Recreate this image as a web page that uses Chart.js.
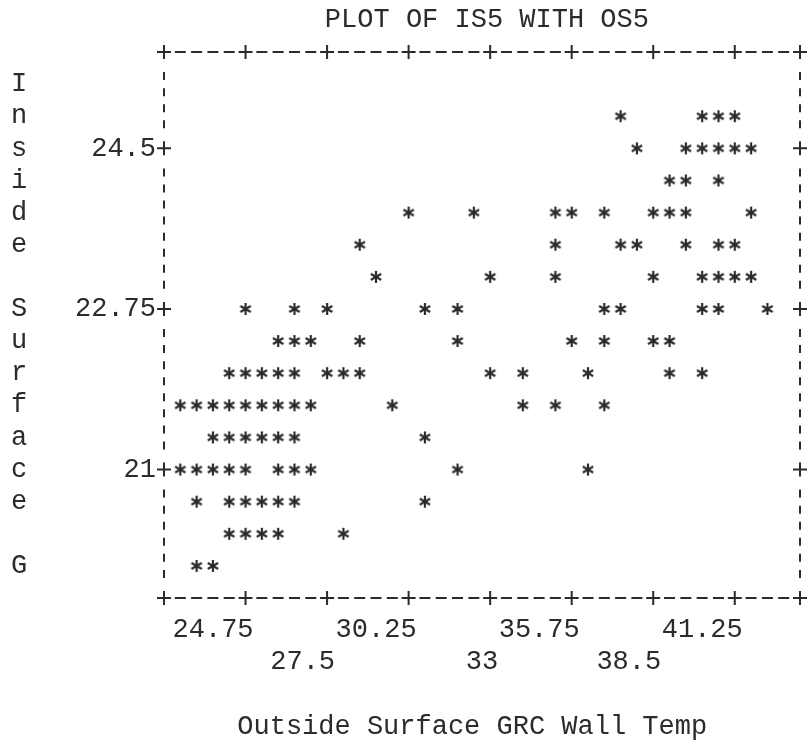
<!DOCTYPE html>
<html>
<head>
<meta charset="utf-8">
<title>PLOT OF IS5 WITH OS5</title>
<script src="https://cdn.jsdelivr.net/npm/chart.js@4.4.1/dist/chart.umd.min.js"></script>
<style>
    html, body { margin: 0; padding: 0; background: #fff; }
    #wrap { width: 808px; height: 746px; }
</style>
</head>
<body>
<div id="wrap"><canvas id="plot" width="808" height="746"></canvas></div>
<script>
const chartTitle = 'PLOT OF IS5 WITH OS5';
const xAxisTitle = 'Outside Surface GRC Wall Temp';
const yAxisLetters = 'Inside Surface G';

const xTickValues = [24.75, 27.5, 30.25, 33, 35.75, 38.5, 41.25];
const xTickLabels = ['24.75', '27.5', '30.25', '33', '35.75', '38.5', '41.25'];
const yTickValues = [24.5, 22.75, 21];
const yTickLabels = ['24.5', '22.75', '21'];

// inside surface temp (IS5) of each printed line, top to bottom
const insideTemp = [24.85, 24.5, 24.15, 23.8, 23.45, 23.1, 22.75, 22.4, 22.05, 21.7, 21.35, 21.0, 20.65, 20.3, 19.95];
// outside wall temps (OS5) plotted on each of those lines
const outsideTemp = [
    [37.4, 40.15, 40.7, 41.25],
    [37.95, 39.6, 40.15, 40.7, 41.25, 41.8],
    [39.05, 39.6, 40.7],
    [30.25, 32.45, 35.2, 35.75, 36.85, 38.5, 39.05, 39.6, 41.8],
    [28.6, 35.2, 37.4, 37.95, 39.6, 40.7, 41.25],
    [29.15, 33.0, 35.2, 38.5, 40.15, 40.7, 41.25, 41.8],
    [24.75, 26.4, 27.5, 30.8, 31.9, 36.85, 37.4, 40.15, 40.7, 42.35],
    [25.85, 26.4, 26.95, 28.6, 31.9, 35.75, 36.85, 38.5, 39.05],
    [24.2, 24.75, 25.3, 25.85, 26.4, 27.5, 28.05, 28.6, 33.0, 34.1, 36.3, 39.05, 40.15],
    [22.55, 23.1, 23.65, 24.2, 24.75, 25.3, 25.85, 26.4, 26.95, 29.7, 34.1, 35.2, 36.85],
    [23.65, 24.2, 24.75, 25.3, 25.85, 26.4, 30.8],
    [22.55, 23.1, 23.65, 24.2, 24.75, 25.85, 26.4, 26.95, 31.9, 36.3],
    [23.1, 24.2, 24.75, 25.3, 25.85, 26.4, 30.8],
    [24.2, 24.75, 25.3, 25.85, 28.05],
    [23.1, 23.65]
];

const ink = '#2b2b2b';
const monoFont = '"Liberation Mono", "DejaVu Sans Mono", monospace';

function makeAsterisk() {
    const c = document.createElement('canvas');
    c.width = 16; c.height = 16;
    const g = c.getContext('2d');
    g.strokeStyle = ink;
    g.lineWidth = 2.2;
    const r = 6;
    for (let k = 0; k < 3; k++) {
        const ang = Math.PI / 2 + k * Math.PI / 3;
        g.beginPath();
        g.moveTo(8 - r * Math.cos(ang), 8 - r * Math.sin(ang));
        g.lineTo(8 + r * Math.cos(ang), 8 + r * Math.sin(ang));
        g.stroke();
    }
    return c;
}

function drawPlus(ctx, x, y) {
    ctx.beginPath();
    ctx.moveTo(x - 7, y); ctx.lineTo(x + 7, y);
    ctx.moveTo(x, y - 7); ctx.lineTo(x, y + 7);
    ctx.stroke();
}

// line printer frame: "+-----+" along top/bottom, broken bars at the sides
const printerFrame = {
    id: 'printerFrame',
    beforeDraw(chart) {
        const ctx = chart.ctx;
        ctx.save();
        ctx.fillStyle = '#fff';
        ctx.fillRect(0, 0, chart.width, chart.height);
        ctx.restore();
    },
    beforeDatasetsDraw(chart) {
        const { ctx, chartArea: a, scales: { x, y } } = chart;
        const colW = (x.getPixelForValue(xTickValues[1]) - x.getPixelForValue(xTickValues[0])) / 5;
        const lineH = y.getPixelForValue(insideTemp[1]) - y.getPixelForValue(insideTemp[0]);
        const xPlus = [a.left, a.right, ...xTickValues.map(v => x.getPixelForValue(v))];
        const yPlus = [a.top, a.bottom, ...yTickValues.map(v => y.getPixelForValue(v))];

        ctx.save();
        ctx.strokeStyle = ink;
        ctx.lineWidth = 2;

        const cols = Math.round((a.right - a.left) / colW);
        for (let i = 0; i <= cols; i++) {
            const cx = a.left + i * colW;
            if (xPlus.some(p => Math.abs(p - cx) < colW / 2)) continue;
            [a.top, a.bottom].forEach(py => {
                ctx.beginPath();
                ctx.moveTo(cx - 5.5, py); ctx.lineTo(cx + 5.5, py);
                ctx.stroke();
            });
        }
        xPlus.forEach(px => { drawPlus(ctx, px, a.top); drawPlus(ctx, px, a.bottom); });

        const halves = Math.round((a.bottom - a.top) / lineH) * 2;
        for (let m = 0; m < halves; m++) {
            const cy = a.top + (m + 0.5) * lineH / 2;
            if (yPlus.some(p => Math.abs(p - cy) < 10)) continue;
            [a.left, a.right].forEach(px => {
                ctx.beginPath();
                ctx.moveTo(px, cy - 4); ctx.lineTo(px, cy + 4);
                ctx.stroke();
            });
        }
        yPlus.slice(2).forEach(py => { drawPlus(ctx, a.left, py); drawPlus(ctx, a.right, py); });
        ctx.restore();
    },
    afterDraw(chart) {
        const { ctx, chartArea: a, scales: { y } } = chart;
        const lineH = y.getPixelForValue(insideTemp[1]) - y.getPixelForValue(insideTemp[0]);
        const colW = (a.right - a.left) / 39;
        ctx.save();
        ctx.fillStyle = ink;
        ctx.font = '27px ' + monoFont;
        ctx.textAlign = 'center';
        ctx.textBaseline = 'middle';
        const mid = (a.left + a.right) / 2;
        ctx.fillText(chartTitle, mid + colW * 0.3, a.top - lineH);
        ctx.fillText(xAxisTitle, mid - colW * 0.6, a.bottom + lineH * 4);
        // vertical axis label, one letter per printed line
        const y0 = y.getPixelForValue(insideTemp[0]) - lineH;
        [...yAxisLetters].forEach((ch, i) => {
            if (ch !== ' ') ctx.fillText(ch, 19, y0 + i * lineH);
        });
        ctx.restore();
    }
};

const points = [];
insideTemp.forEach((iv, i) => {
    outsideTemp[i].forEach(ov => points.push({ x: ov, y: iv }));
});

const tickFont = { family: monoFont, size: 27, lineHeight: 32 / 27 };

new Chart(document.getElementById('plot').getContext('2d'), {
    type: 'scatter',
    data: {
        datasets: [{
            label: 'IS5 vs OS5',
            data: points,
            pointStyle: makeAsterisk(),
            pointRadius: 6,
            pointHoverRadius: 6
        }]
    },
    options: {
        responsive: false,
        animation: false,
        devicePixelRatio: 1,
        events: [],
        layout: { padding: { top: 52, right: 8, bottom: 0, left: 0 } },
        plugins: { legend: { display: false }, tooltip: { enabled: false }, title: { display: false } },
        scales: {
            x: {
                type: 'linear',
                position: 'bottom',
                min: 22,
                max: 43.45,
                grid: { display: false, drawTicks: false },
                border: { display: false },
                afterBuildTicks: s => { s.ticks = xTickValues.map(v => ({ value: v })); },
                afterFit: s => { s.height = 148; },
                ticks: {
                    autoSkip: false,
                    maxRotation: 0,
                    minRotation: 0,
                    align: 'end',
                    labelOffset: 8,
                    padding: 16,
                    color: ink,
                    font: tickFont,
                    callback: (v, i) => i % 2 === 0 ? [xTickLabels[i], ''] : ['', xTickLabels[i]]
                }
            },
            y: {
                type: 'linear',
                min: 19.6,
                max: 25.55,
                grid: { display: false, drawTicks: false },
                border: { display: false },
                afterBuildTicks: s => { s.ticks = yTickValues.map(v => ({ value: v })); },
                afterFit: s => { s.width = 164; },
                ticks: {
                    padding: 8,
                    color: ink,
                    font: tickFont,
                    callback: (v, i) => yTickLabels[i]
                }
            }
        }
    },
    plugins: [printerFrame]
});
</script>
</body>
</html>
